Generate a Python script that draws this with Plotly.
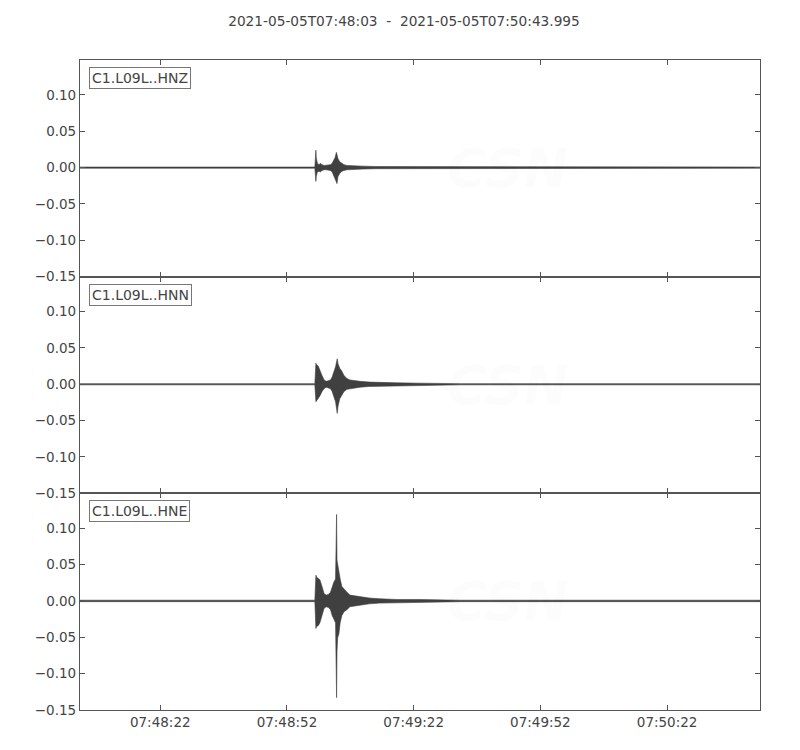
import pandas as pd
import plotly.graph_objects as go
from plotly.subplots import make_subplots

START = "2021-05-05 07:48:03"
END = "2021-05-05 07:50:43.995"
TITLE = "2021-05-05T07:48:03  -  2021-05-05T07:50:43.995"
channels = ["C1.L09L..HNZ", "C1.L09L..HNN", "C1.L09L..HNE"]

# envelope of each trace: seconds after START, upper / lower amplitude
hnz_t = [0, 55.6, 55.85, 55.95, 56.2, 56.6, 56.9, 57.3, 57.8, 58.3, 58.8, 59.3, 59.7,
         60.1, 60.4, 60.7, 60.85, 61.1, 61.5, 62.0, 62.5, 63.2, 64.0, 65.5, 67, 70, 74, 80, 90, 161]
hnz_up = [0.0008, 0.0008, 0.024, 0.013, 0.006, 0.004, 0.006, 0.004, 0.003, 0.003, 0.003, 0.004, 0.006,
          0.010, 0.014, 0.021, 0.018, 0.012, 0.008, 0.006, 0.004, 0.003, 0.003, 0.002, 0.002, 0.0015, 0.0015, 0.001, 0.0008, 0.0008]
hnz_lo = [-0.0008, -0.0008, -0.019, -0.012, -0.006, -0.005, -0.006, -0.004, -0.003, -0.003, -0.003, -0.004, -0.006,
          -0.010, -0.014, -0.020, -0.022, -0.012, -0.008, -0.005, -0.004, -0.003, -0.003, -0.002, -0.002, -0.0015, -0.0015, -0.001, -0.0008, -0.0008]

hnn_t = [0, 55.6, 55.85, 56.0, 56.4, 56.8, 57.3, 57.8, 58.3, 58.8, 59.3, 59.7, 60.1, 60.5,
         60.9, 61.1, 61.5, 62.0, 62.5, 63.2, 63.9, 65.0, 66.3, 68.5, 71.0, 75, 80.5, 90, 161]
hnn_up = [0.0008, 0.0008, 0.029, 0.027, 0.025, 0.018, 0.012, 0.006, 0.004, 0.005, 0.006, 0.010, 0.016, 0.024,
          0.035, 0.028, 0.022, 0.018, 0.012, 0.008, 0.006, 0.005, 0.004, 0.003, 0.003, 0.002, 0.0015, 0.0008, 0.0008]
hnn_lo = [-0.0008, -0.0008, -0.024, -0.022, -0.020, -0.016, -0.010, -0.006, -0.004, -0.005, -0.006, -0.010, -0.016, -0.024,
          -0.040, -0.030, -0.020, -0.015, -0.010, -0.007, -0.006, -0.005, -0.004, -0.003, -0.003, -0.002, -0.0015, -0.0008, -0.0008]

hne_t = [0, 55.6, 55.85, 56.0, 56.4, 56.8, 57.3, 57.8, 58.3, 58.8, 59.3, 59.7, 60.1, 60.5,
         60.75, 60.85, 61.0, 61.3, 61.6, 62.0, 62.5, 63.2, 63.9, 65.0, 66.3, 68.5, 71.0, 75, 80.5, 90, 161]
hne_up = [0.001, 0.001, 0.0355, 0.033, 0.031, 0.029, 0.020, 0.010, 0.008, 0.009, 0.012, 0.020, 0.026, 0.030,
          0.119, 0.056, 0.050, 0.045, 0.030, 0.020, 0.016, 0.012, 0.008, 0.007, 0.006, 0.004, 0.003, 0.002, 0.002, 0.001, 0.001]
hne_lo = [-0.001, -0.001, -0.0378, -0.035, -0.034, -0.030, -0.020, -0.010, -0.008, -0.009, -0.012, -0.020, -0.026, -0.030,
          -0.133, -0.070, -0.051, -0.045, -0.030, -0.020, -0.015, -0.012, -0.008, -0.007, -0.006, -0.004, -0.003, -0.002, -0.002, -0.001, -0.001]

envelopes = [(hnz_t, hnz_up, hnz_lo), (hnn_t, hnn_up, hnn_lo), (hne_t, hne_up, hne_lo)]

t0 = pd.Timestamp(START)
fig = make_subplots(rows=3, cols=1, shared_xaxes=True, vertical_spacing=0)

for i, (t, up, lo) in enumerate(envelopes):
    times = [t0 + pd.Timedelta(seconds=s) for s in t]
    # closed envelope: upper edge forward, lower edge back
    xs = times + times[::-1]
    ys = list(up) + list(lo)[::-1]
    fig.add_trace(go.Scatter(x=xs, y=ys, mode="lines", fill="toself", fillcolor="#404040",
                             line=dict(color="#404040", width=0.6),
                             showlegend=False, hoverinfo="skip"), row=i + 1, col=1)
    fig.update_yaxes(range=[-0.15, 0.148], tickvals=[-0.15, -0.10, -0.05, 0.0, 0.05, 0.10],
                     tickformat=".2f", row=i + 1, col=1)
    yref = "y domain" if i == 0 else "y%d domain" % (i + 1)
    fig.add_annotation(text=channels[i], xref="x domain", yref=yref, x=0.013, y=0.967,
                       xanchor="left", yanchor="top", showarrow=False,
                       font=dict(size=14, color="#444444"), bgcolor="white",
                       bordercolor="#777777", borderwidth=1, borderpad=2)
    # faint CSN watermark
    fig.add_annotation(text="<b><i>CSN</i></b>", xref="x domain", yref=yref, x=0.63, y=0.5,
                       showarrow=False, font=dict(size=54, color="rgba(0,0,0,0.012)"))
    fig.add_annotation(text="<i>CENTRO SISMOLÓGICO NACIONAL<br>UNIVERSIDAD DE CHILE</i>",
                       xref="x domain", yref=yref, x=0.66, y=0.16, xanchor="left",
                       showarrow=False, align="left",
                       font=dict(size=12, color="rgba(0,0,0,0.012)"))

fig.update_xaxes(type="date", range=[START, END], tick0="2021-05-05 07:48:22", dtick=30000,
                 tickformat="%H:%M:%S", ticks="inside", ticklen=5, tickcolor="#555555",
                 showline=True, linecolor="#555555", linewidth=1.2, mirror="ticks",
                 showgrid=False, zeroline=False)
fig.update_yaxes(ticks="inside", ticklen=5, tickcolor="#555555", showline=True,
                 linecolor="#555555", linewidth=1.2, mirror="ticks", showgrid=False, zeroline=False)

# page body has an 8px margin, so the figure is shrunk by that amount
fig.update_layout(
    width=792, height=742,
    margin=dict(l=72, r=40, t=52, b=40),
    paper_bgcolor="white", plot_bgcolor="white",
    font=dict(family="DejaVu Sans", size=13.5, color="#444444"),
    title=dict(text=TITLE, x=0.5, xanchor="center", y=0.982, yanchor="middle",
               font=dict(size=13.7, color="#444444")),
)

fig.write_html("out.html")
